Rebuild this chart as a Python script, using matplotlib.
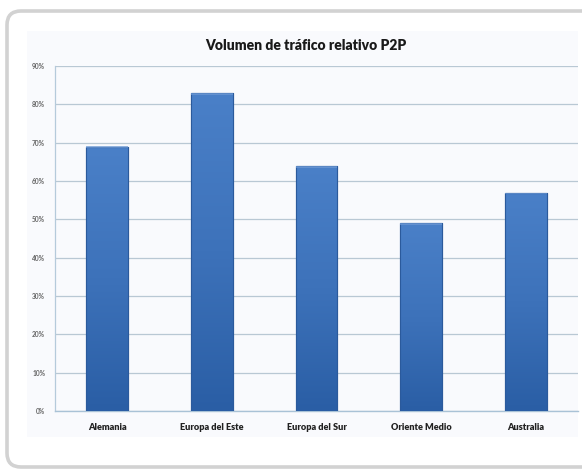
import numpy as np
import matplotlib
matplotlib.use("Agg")
import matplotlib.pyplot as plt
from matplotlib.patches import FancyBboxPatch, Rectangle
from matplotlib.colors import LinearSegmentedColormap

plt.rcParams['font.family'] = ['Lato', 'DejaVu Sans']

# Data
regions = ["Alemania", "Europa del Este", "Europa del Sur", "Oriente Medio", "Australia"]
share = [69, 83, 64, 49, 57]
y_ticks = [0, 10, 20, 30, 40, 50, 60, 70, 80, 90]
y_labels = ["0%", "10%", "20%", "30%", "40%", "50%", "60%", "70%", "80%", "90%"]
title = "Volumen de tráfico relativo P2P"

W, H = 582, 470
fig = plt.figure(figsize=(W / 100, H / 100), dpi=100)

# Frame layer in pixel coordinates
bg = fig.add_axes([0, 0, 1, 1], zorder=-2)
bg.set_xlim(0, W)
bg.set_ylim(H, 0)
bg.axis("off")
bg.add_patch(FancyBboxPatch((7, 11), 620, 456,
                            boxstyle="round,pad=0,rounding_size=14",
                            facecolor="white", edgecolor="#d2d2d2", lw=2.6))
bg.add_patch(Rectangle((27, 31), 551, 406, facecolor="#f9fafd", edgecolor="none"))

# Plot area
ax = fig.add_axes([55 / W, (H - 411) / H, (578 - 55) / W, (411 - 66) / H])
ax.set_facecolor("none")
x = np.arange(len(regions))
bars = ax.bar(x, share, width=0.4, color="#3a6db3", edgecolor="#2b5a9c",
              linewidth=0.8, zorder=3)

# Vertical gradient inside each bar
cmap = LinearSegmentedColormap.from_list("barblue", ["#2a5ea5", "#3d72ba", "#4a80c8"])
grad = np.linspace(0, 1, 256).reshape(-1, 1)
for b in bars:
    x0, w, h = b.get_x(), b.get_width(), b.get_height()
    im = ax.imshow(grad, cmap=cmap, origin="lower", aspect="auto",
                   extent=(x0, x0 + w, 0, h), zorder=3.5, interpolation="bilinear")
    im.set_clip_path(b)
    ax.add_patch(Rectangle((x0, 0), w, h, facecolor="none",
                           edgecolor="#2b5a9c", lw=0.8, zorder=4))
    ax.add_patch(Rectangle((x0, h - 0.5), w, 0.5, facecolor="#6f9bd6",
                           edgecolor="none", zorder=4, alpha=0.7))

ax.set_xlim(-0.5, len(regions) - 0.5)
ax.set_ylim(0, 90)
ax.set_yticks(y_ticks)
ax.set_yticklabels(y_labels, fontsize=4.8, fontweight="bold", color="#666666")
ax.set_xticks(x)
ax.set_xticklabels(regions, fontsize=6.6, fontweight="heavy", color="#222222")
ax.tick_params(axis="y", length=0, pad=7)
ax.tick_params(axis="x", length=0, pad=9)
ax.grid(axis="y", color="#b9c8d4", lw=0.9, zorder=0)
for s in ["top", "right"]:
    ax.spines[s].set_visible(False)
ax.spines["left"].set_color("#b5cadb")
ax.spines["bottom"].set_color("#a9c2d6")
ax.spines["left"].set_linewidth(0.9)
ax.spines["bottom"].set_linewidth(1.0)

fig.text(306 / W, 1 - 45 / H, title, ha="center", va="center",
         fontsize=10, fontweight="heavy", color="#1a1a1a")

fig.savefig("out.png", dpi=100)
